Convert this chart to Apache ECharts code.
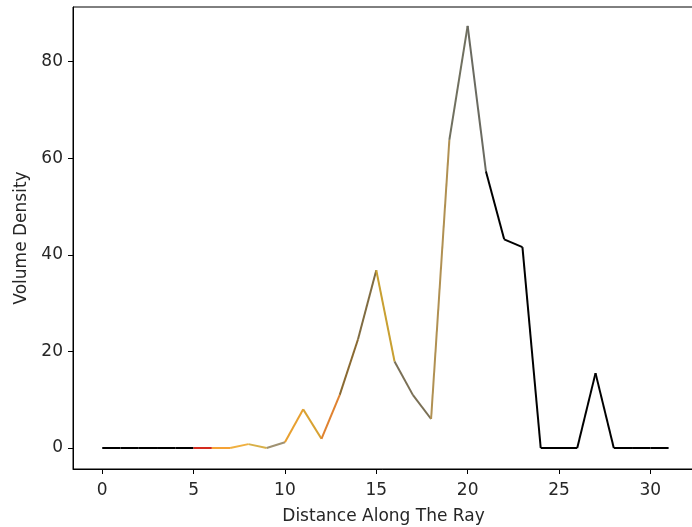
<!DOCTYPE html>
<html>
<head>
<meta charset="utf-8">
<script src="https://cdn.jsdelivr.net/npm/echarts@6/dist/echarts.min.js"></script>
<style>
  html, body { margin: 0; padding: 0; background: #fff; }
  #chart { width: 692px; height: 527px; }
</style>
</head>
<body>
<div id="chart"></div>
<script>
// distance samples along the ray
const distances = [0, 1, 2, 3, 4, 5, 6, 7, 8, 9, 10, 11, 12, 13, 14, 15,
  16, 17, 18, 19, 20, 21, 22, 23, 24, 25, 26, 27, 28, 29, 30, 31]
const density = [0, 0, 0, 0, 0, 0, 0, 0, 0.8, 0, 1.2, 8.0, 1.9, 11.0, 22.5, 36.8,
  17.9, 11.0, 6.0, 63.8, 87.4, 57.3, 43.2, 41.6, 0, 0, 0, 15.5, 0, 0, 0, 0]
// colour of each segment i -> i+1
const segColors = ['#000000', '#000000', '#000000', '#000000', '#000000',
  '#d42a1e', '#f5a235', '#f0b040', '#d8b048', '#a09272', '#e8a030',
  '#d8a232', '#e08230', '#8a6a32', '#806c42', '#c8a032', '#7a7056',
  '#7a7056', '#b09052', '#70705f', '#6a6a60',
  '#000000', '#000000', '#000000', '#000000', '#000000', '#000000',
  '#000000', '#000000', '#000000', '#000000']
const xTicks = [0, 5, 10, 15, 20, 25, 30]
const yTicks = [0, 20, 40, 60, 80]

const chart = echarts.init(document.getElementById('chart'))

// one short series per segment so each can have its own colour
const series = segColors.map((c, i) => ({
  type: 'line',
  data: [[distances[i], density[i]], [distances[i + 1], density[i + 1]]],
  showSymbol: false,
  symbol: 'none',
  silent: true,
  animation: false,
  lineStyle: { color: c, width: 2 },
  z: c === '#000000' ? 2 : 3
}))

const textColor = '#262626'
const font = 'DejaVu Sans'

// the right spine of the original figure is cut off by the edge of the picture
chart.setOption({
  backgroundColor: '#ffffff',
  animation: false,
  grid: {
    left: 73, right: -2, top: 7, bottom: 58,
    outerBoundsMode: 'none',
    containLabel: false,
    show: true,
    borderColor: '#000000',
    borderWidth: 1,
    backgroundColor: 'transparent'
  },
  xAxis: {
    type: 'value',
    min: -1.6,
    max: 32.39,
    name: 'Distance Along The Ray',
    nameLocation: 'middle',
    nameGap: 39,
    nameTextStyle: { color: textColor, fontSize: 17, fontFamily: font },
    axisLine: { show: true, onZero: false, lineStyle: { color: '#000', width: 1 } },
    axisTick: { show: true, length: 5, inside: false, customValues: xTicks, lineStyle: { color: '#000' } },
    axisLabel: { customValues: xTicks, color: textColor, fontSize: 17, fontFamily: font, margin: 13 },
    splitLine: { show: false }
  },
  yAxis: {
    type: 'value',
    min: -4.35,
    max: 91.3,
    name: 'Volume Density',
    nameLocation: 'middle',
    nameGap: 42,
    nameRotate: 90,
    nameTextStyle: { color: textColor, fontSize: 17, fontFamily: font },
    axisLine: { show: true, onZero: false, lineStyle: { color: '#000', width: 1 } },
    axisTick: { show: true, length: 5, inside: false, customValues: yTicks, lineStyle: { color: '#000' } },
    axisLabel: { customValues: yTicks, color: textColor, fontSize: 17, fontFamily: font, margin: 10 },
    splitLine: { show: false }
  },
  series: series
})
</script>
</body>
</html>
